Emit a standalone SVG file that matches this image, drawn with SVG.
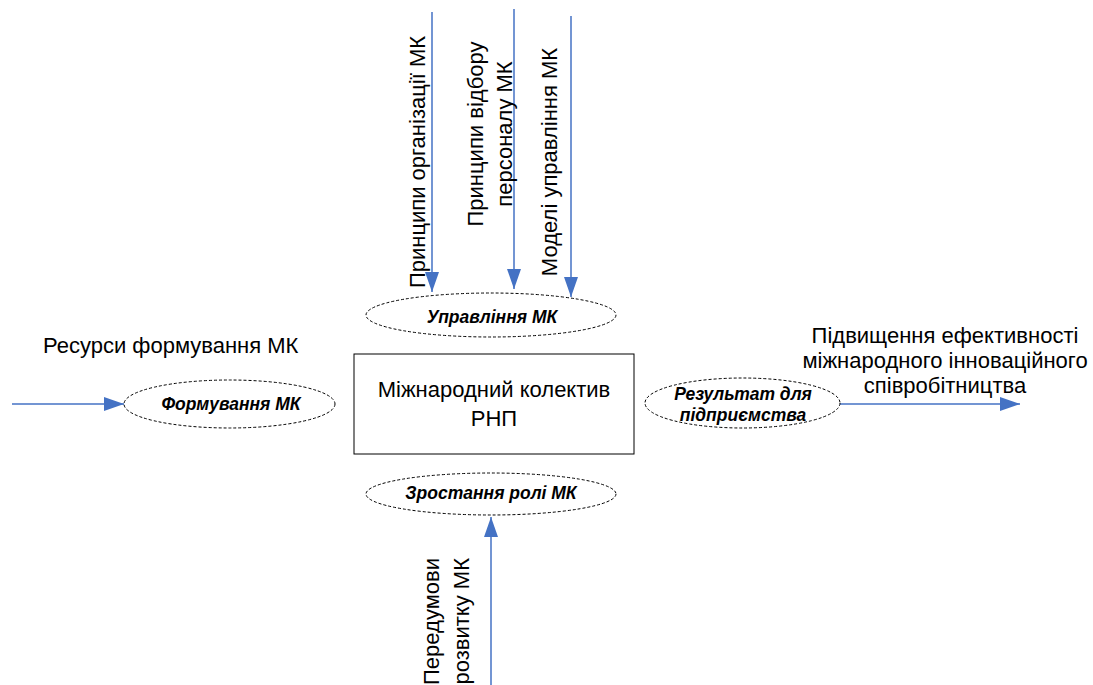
<svg xmlns="http://www.w3.org/2000/svg" width="1093" height="685" viewBox="0 0 1093 685">
<style>
.lbl{font-family:"Liberation Sans",Arial,sans-serif;font-size:22px;fill:#000}
.box{font-family:"Liberation Sans",Arial,sans-serif;font-size:22px;fill:#000}
.ell{font-family:"Liberation Sans",Arial,sans-serif;font-size:17.5px;font-weight:bold;font-style:italic;fill:#000}
.e{fill:#fff;stroke:#000;stroke-width:1;stroke-dasharray:3,2}
.c{stroke:#4472C4;stroke-width:1.5;fill:none;marker-end:url(#ah)}
</style>
<defs>
<marker id="ah" markerUnits="userSpaceOnUse" markerWidth="20" markerHeight="14" refX="20" refY="7" orient="auto" viewBox="0 0 20 14">
<path d="M0,0 L20,7 L0,14 z" fill="#4472C4"/>
</marker>
</defs>
<rect width="1093" height="685" fill="#fff"/>
<g id="connectors">
<line class="c" x1="432" y1="12" x2="432" y2="292"/>
<line class="c" x1="514" y1="9" x2="514" y2="289"/>
<line class="c" x1="571" y1="16" x2="571" y2="297"/>
<line class="c" x1="12" y1="404" x2="124" y2="404"/>
<line class="c" x1="840" y1="404" x2="1020" y2="404"/>
<line class="c" x1="491" y1="685" x2="491" y2="517"/>
</g>
<g id="labels">
<text class="lbl" x="43" y="353">Ресурси формування МК</text>
<text class="lbl" text-anchor="middle" x="945" y="343">Підвищення ефективності</text>
<text class="lbl" text-anchor="middle" x="945" y="368">міжнародного інноваційного</text>
<text class="lbl" text-anchor="middle" x="945" y="393">співробітництва</text>
<text class="lbl" text-anchor="middle" transform="translate(425,162) rotate(-90)">Принципи організації МК</text>
<text class="lbl" text-anchor="middle" transform="translate(483,134) rotate(-90)">Принципи відбору</text>
<text class="lbl" text-anchor="middle" transform="translate(512,134) rotate(-90)">персоналу МК</text>
<text class="lbl" text-anchor="middle" transform="translate(557,162) rotate(-90)">Моделі управління МК</text>
<text class="lbl" text-anchor="end" transform="translate(439,558) rotate(-90)">Передумови</text>
<text class="lbl" text-anchor="end" transform="translate(469,558) rotate(-90)">розвитку МК</text>
</g>
<g id="node-main">
<rect x="354" y="354" width="280" height="100" fill="#fff" stroke="#000" stroke-width="1"/>
<text class="box" text-anchor="middle" x="494" y="397">Міжнародний колектив</text>
<text class="box" text-anchor="middle" x="494" y="426">РНП</text>
</g>
<g id="node-upravlinnia">
<ellipse class="e" cx="491" cy="315" rx="125" ry="22"/>
<text class="ell" text-anchor="middle" x="492" y="323">Управління МК</text>
</g>
<g id="node-formuvannia">
<ellipse class="e" cx="229.5" cy="404" rx="105.5" ry="24"/>
<text class="ell" text-anchor="middle" x="231" y="410">Формування МК</text>
</g>
<g id="node-rezultat">
<ellipse class="e" cx="742.5" cy="403" rx="97.5" ry="25"/>
<text class="ell" text-anchor="middle" x="743" y="400">Результат для</text>
<text class="ell" text-anchor="middle" x="743" y="421">підприємства</text>
</g>
<g id="node-zrostannia">
<ellipse class="e" cx="491" cy="494" rx="125" ry="21"/>
<text class="ell" text-anchor="middle" x="491" y="499">Зростання ролі МК</text>
</g>
</svg>
